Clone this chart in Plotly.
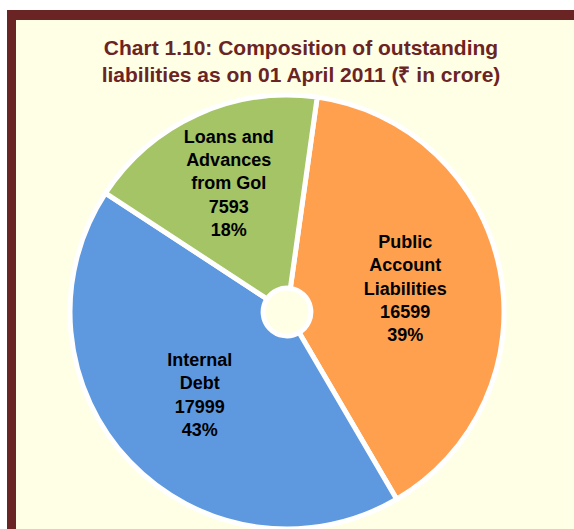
import plotly.graph_objects as go

labels = ["Public<br>Account<br>Liabilities", "Internal<br>Debt", "Loans and<br>Advances<br>from GoI"]
values = [16599, 17999, 7593]
colors = ["#FFA04F", "#5E99E0", "#A4C465"]

W, H = 574, 529
cx, cy, D = 287, 312, 434

fig = go.Figure(go.Pie(
    labels=labels,
    values=values,
    sort=False,
    direction="clockwise",
    rotation=8,
    hole=0.11,
    marker=dict(colors=colors, line=dict(color="#FFFFFF", width=5)),
    texttemplate="<b>%{label}<br>%{value:.0f}<br>%{percent:.0%}</b>",
    textposition="inside",
    insidetextorientation="horizontal",
    textfont=dict(family="Liberation Sans, Arial, sans-serif", size=18, color="#000000"),
    showlegend=False,
    domain=dict(x=[(cx - D / 2) / W, (cx + D / 2) / W],
                y=[max(0, 1 - (cy + D / 2) / H), 1 - (cy - D / 2) / H]),
))

fig.update_layout(
    width=W, height=H,
    margin=dict(l=0, r=0, t=0, b=0),
    paper_bgcolor="#FFFFFF",
    title=dict(
        text="<b>Chart 1.10: Composition of outstanding<br>liabilities as on 01 April 2011 (₹ in crore)</b>",
        x=301 / W, xanchor="center", y=1 - 55 / H, yanchor="middle",
        font=dict(family="Liberation Sans, Arial, sans-serif", size=21, color="#6B2424"),
    ),
    shapes=[
        dict(type="rect", xref="paper", yref="paper", x0=7 / W, x1=1.02, y0=-0.02, y1=1 - 10 / H,
             fillcolor="#6B2424", line=dict(width=0), layer="below"),
        dict(type="rect", xref="paper", yref="paper", x0=16 / W, x1=1.02, y0=-0.02, y1=1 - 20 / H,
             fillcolor="#FFFFE6", line=dict(width=0), layer="below"),
    ],
)

fig.write_html("out.html", config={"displayModeBar": False},
               post_script="document.body.style.margin='0px';document.body.style.overflow='hidden';")
